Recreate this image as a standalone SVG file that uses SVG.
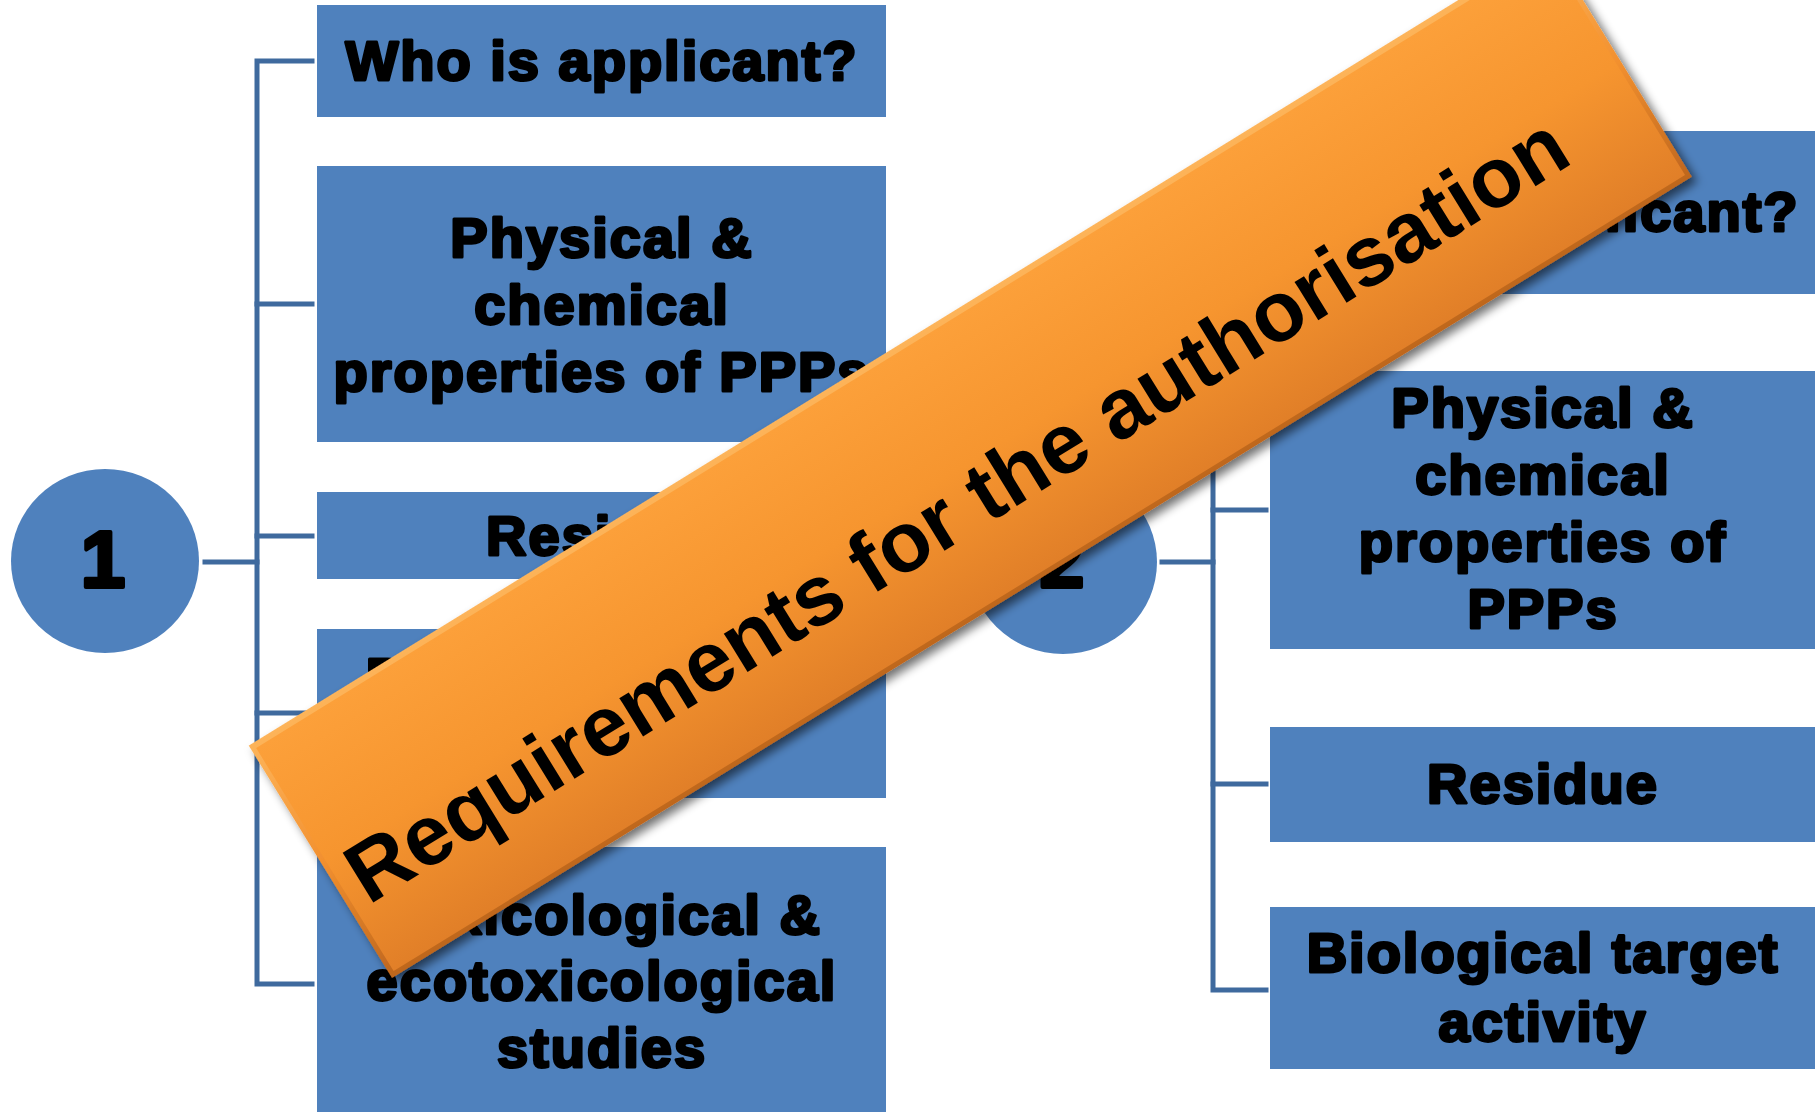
<svg xmlns="http://www.w3.org/2000/svg" width="1819" height="1112" viewBox="0 0 1819 1112">
  <defs>
    <style>
      .box { fill: #4F81BD; }
      .circ { fill: #4F81BD; }
      .t { font-family: "Liberation Sans", Arial, sans-serif; font-weight: bold; font-size: 56px; letter-spacing: 2px; fill: #000; stroke: #000; stroke-width: 3; stroke-linejoin: round; text-anchor: middle; }
      .num { font-family: "Liberation Sans", Arial, sans-serif; font-weight: bold; font-size: 80px; fill: #000; stroke: #000; stroke-width: 4; stroke-linejoin: round; text-anchor: middle; }
      .ln { fill: none; stroke: #3F6A9E; stroke-width: 5; stroke-linecap: square; }
      .bt { font-family: "Liberation Sans", Arial, sans-serif; font-weight: bold; font-size: 85px; fill: #000; }
    </style>
    <linearGradient id="gBanner" gradientUnits="userSpaceOnUse" x1="0" y1="-267" x2="0" y2="-5">
      <stop offset="0" stop-color="#FCA03A"/>
      <stop offset="0.5" stop-color="#F6952F"/>
      <stop offset="1" stop-color="#E17F28"/>
    </linearGradient>
    <linearGradient id="gEdge" gradientUnits="userSpaceOnUse" x1="0" y1="-273" x2="0" y2="0">
      <stop offset="0" stop-color="#FDB45A"/>
      <stop offset="0.5" stop-color="#F2902F"/>
      <stop offset="1" stop-color="#BE661E"/>
    </linearGradient>
    <filter id="shadow" x="-5%" y="-20%" width="110%" height="140%">
      <feDropShadow dx="2" dy="7" stdDeviation="5" flood-color="#000" flood-opacity="0.55"/>
    </filter>
  </defs>

  <rect x="0" y="0" width="1819" height="1112" fill="#FFFFFF"/>

  <!-- connectors -->
  <g id="connectors">
    <path class="ln" d="M205 562 H257"/>
    <path class="ln" d="M312 61 H257 V984 H312"/>
    <path class="ln" d="M257 304 H312"/>
    <path class="ln" d="M257 536 H312"/>
    <path class="ln" d="M257 713 H312"/>
    <path class="ln" d="M1162 562 H1213"/>
    <path class="ln" d="M1266 212 H1213 V990 H1266"/>
    <path class="ln" d="M1213 510 H1266"/>
    <path class="ln" d="M1213 784 H1266"/>
  </g>

  <!-- left list -->
  <g id="circle1">
    <ellipse class="circ" cx="105" cy="561" rx="94" ry="92"/>
    <text class="num" x="103" y="587">1</text>
  </g>
  <g id="l1">
    <rect class="box" x="317" y="5" width="569" height="112"/>
    <text class="t" x="602" y="80">Who is applicant?</text>
  </g>
  <g id="l2">
    <rect class="box" x="317" y="166" width="569" height="276"/>
    <text class="t" x="602" y="257">Physical &amp;</text>
    <text class="t" x="602" y="324">chemical</text>
    <text class="t" x="602" y="391">properties of PPPs</text>
  </g>
  <g id="l3">
    <rect class="box" x="317" y="492" width="569" height="87"/>
    <text class="t" x="602" y="555">Residue</text>
  </g>
  <g id="l4">
    <rect class="box" x="317" y="629" width="569" height="169"/>
    <text class="t" x="602" y="697">Biological target</text>
    <text class="t" x="602" y="766">activity</text>
  </g>
  <g id="l5">
    <rect class="box" x="317" y="847" width="569" height="265"/>
    <text class="t" x="602" y="934">Toxicological &amp;</text>
    <text class="t" x="602" y="1000">ecotoxicological</text>
    <text class="t" x="602" y="1067">studies</text>
  </g>

  <!-- right list -->
  <g id="circle2">
    <ellipse class="circ" cx="1063" cy="562" rx="94" ry="92"/>
    <text class="num" x="1062" y="587">2</text>
  </g>
  <g id="r1">
    <rect class="box" x="1270" y="131" width="545" height="163"/>
    <text class="t" x="1543" y="231">Who is applicant?</text>
  </g>
  <g id="r2">
    <rect class="box" x="1270" y="371" width="545" height="278"/>
    <text class="t" x="1543" y="427">Physical &amp;</text>
    <text class="t" x="1543" y="494">chemical</text>
    <text class="t" x="1543" y="561">properties of</text>
    <text class="t" x="1543" y="628">PPPs</text>
  </g>
  <g id="r3">
    <rect class="box" x="1270" y="727" width="545" height="115"/>
    <text class="t" x="1543" y="803">Residue</text>
  </g>
  <g id="r4">
    <rect class="box" x="1270" y="907" width="545" height="162"/>
    <text class="t" x="1543" y="972">Biological target</text>
    <text class="t" x="1543" y="1041">activity</text>
  </g>

  <!-- banner -->
  <g id="banner" transform="translate(392 978) rotate(-31.65)">
    <rect x="0" y="-273" width="1527" height="273" fill="url(#gEdge)" filter="url(#shadow)"/>
    <rect x="5" y="-267" width="1517" height="262" fill="url(#gBanner)"/>
    <text class="bt" x="18" y="-74">Requirements for the authorisation</text>
  </g>
</svg>
